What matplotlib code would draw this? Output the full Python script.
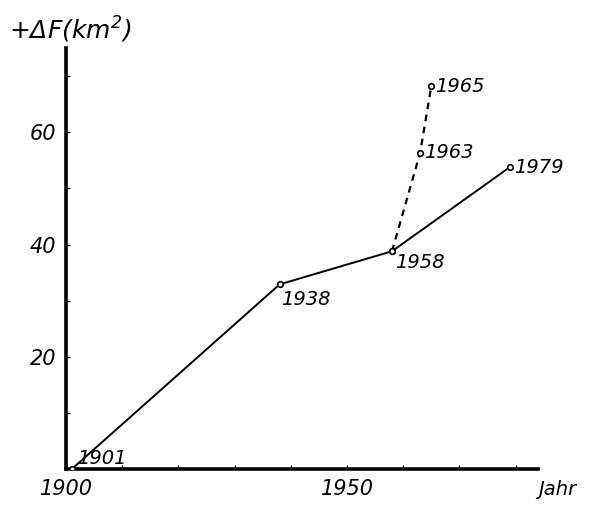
import matplotlib.pyplot as plt

# solid series: area gain per survey year
years_solid = [1901, 1938, 1958, 1979]
area_solid = [0.0, 32.9, 38.8, 53.8]

# dashed branch after 1958
years_dashed = [1958, 1963, 1965]
area_dashed = [38.8, 56.3, 68.2]

yticks = [20, 40, 60]
xticks = [1900, 1950]

plt.rcParams['font.family'] = 'DejaVu Sans'
plt.rcParams['font.style'] = 'italic'

fig = plt.figure(figsize=(5.9, 5.05), dpi=100)
ax = fig.add_axes([0.112, 0.071, 0.8, 0.834])

ax.plot(years_solid, area_solid, color='black', lw=1.4, marker='o', ms=4,
        mfc='white', mec='black', mew=1.2, zorder=3)
ax.plot(years_dashed, area_dashed, color='black', lw=1.6, ls=(0, (3, 2.5)),
        marker='o', ms=4, mfc='white', mec='black', mew=1.2, zorder=3)

# point labels
offsets = {1901: (4, 8), 1938: (1, -11), 1958: (2, -8), 1979: (3, 0)}
for yr, v in zip(years_solid, area_solid):
    dx, dy = offsets[yr]
    ax.annotate(str(yr), (yr, v), xytext=(dx, dy), textcoords='offset points',
                fontsize=14, va='center', ha='left')
for yr, v in zip(years_dashed[1:], area_dashed[1:]):
    ax.annotate(str(yr), (yr, v), xytext=(3, 0), textcoords='offset points',
                fontsize=14, va='center', ha='left')

ax.set_xlim(1900, 1984)
ax.set_ylim(0, 75)
for s in ['top', 'right']:
    ax.spines[s].set_visible(False)
for s in ['left', 'bottom']:
    ax.spines[s].set_linewidth(2.6)

ax.set_xticks(range(1900, 1981, 10))
ax.set_xticklabels([str(t) if t in xticks else '' for t in range(1900, 1981, 10)])
ax.set_yticks(range(0, 71, 10))
ax.set_yticklabels([str(t) if t in yticks else '' for t in range(0, 71, 10)])
ax.tick_params(direction='in', length=3, width=1, labelsize=15, pad=7)

fig.text(0.015, 0.94, r'+$\Delta$F(km$^2$)', fontsize=18, ha='left', va='center')
fig.text(0.912, 0.03, 'Jahr', fontsize=14, ha='left', va='center')

fig.savefig('out.png', dpi=100)
